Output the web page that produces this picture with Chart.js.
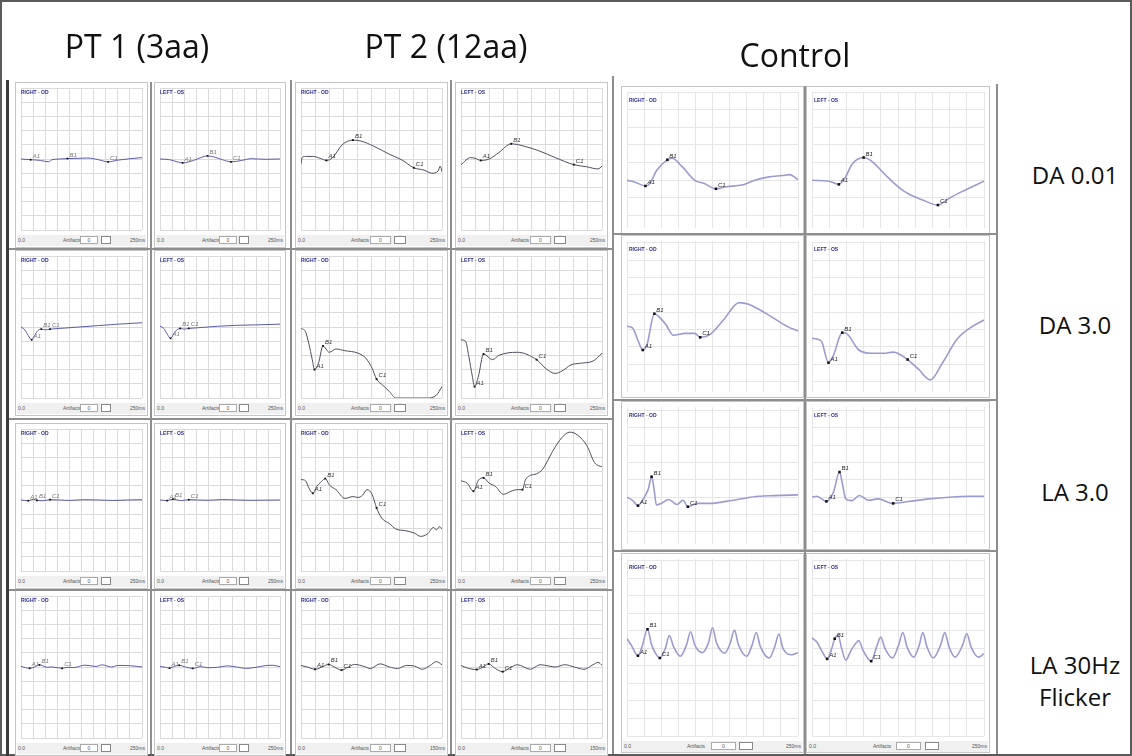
<!DOCTYPE html>
<html>
<head>
<meta charset="utf-8">
<script src="https://cdn.jsdelivr.net/npm/chart.js@4.4.0/dist/chart.umd.min.js"></script>
<style>
  body { margin: 0; width: 1132px; height: 756px; background: #fff; position: relative; overflow: hidden; font-family: "Open Sans", sans-serif; }
  .outer { position: absolute; left: 0; top: 0; width: 1132px; height: 756px; border: 2px solid #5a5a5a; box-sizing: border-box; }
  .title { position: absolute; font-size: 32px; color: #111; white-space: nowrap; transform: translateX(-50%); }
  .rowlab { position: absolute; font-size: 24px; color: #111; white-space: nowrap; text-align: center; transform: translate(-50%, -50%); line-height: 32px; }
  .frame { position: absolute; border: 1px solid #c4c4c4; background: #fff; box-sizing: border-box; }
  .sep { position: absolute; background: #8e8e8e; }
  .eye { position: absolute; font: bold 5px Arial, sans-serif; color: #2e2e8e; white-space: nowrap; }
  .bar { position: absolute; height: 11px; background: #f0f0f0; font: 5px Arial, sans-serif; color: #555; }
  .bar span { position: absolute; top: 2px; white-space: nowrap; }
  .box { position: absolute; top: 1px; height: 8px; border: 1px solid #aaa; background: #fff; box-sizing: border-box; font: 5px Arial; text-align: center; line-height: 6px; color: #555; }
  .pane { position: absolute; }
</style>
</head>
<body>
<div class="outer"></div>
<script>
// ---- grid / axis labels ----
const gridMs = [0, 25, 50, 75, 100, 125, 150, 175, 200, 225, 250];
const markerNames = ['A1', 'B1', 'C1'];
const rowNames = ['DA 0.01', 'DA 3.0', 'LA 3.0', 'LA 30Hz\nFlicker'];
const colTitles = ['PT 1 (3aa)', 'PT 2 (12aa)', 'Control'];

// ---- DA 0.01 ----
const pt1R1OdT = [0, 20, 40, 57, 64, 80, 96, 120, 138, 160, 180, 200, 225, 250];
const pt1R1OdV = [0, -0.05, -0.1, -0.2, -0.05, 0, 0.03, 0.05, 0.07, -0.05, -0.2, -0.08, 0.02, 0.1];
const pt1R1OdM = [20, 96, 180];
const pt1R1OsT = [0, 20, 47, 70, 85, 99, 115, 130, 148, 170, 190, 220, 250];
const pt1R1OsV = [0, -0.05, -0.27, -0.1, 0.1, 0.22, 0.12, -0.05, -0.2, -0.1, 0.02, -0.02, 0];
const pt1R1OsM = [47, 99, 148];
const pt2R1OdT = [0, 2, 8, 22, 34, 45, 56, 73, 92, 106, 129, 157, 179, 200, 218, 232, 243, 247, 250];
const pt2R1OdV = [-0.35, 0.1, 0.18, 0.18, 0.05, -0.1, 0.1, 1.0, 1.33, 1.27, 0.9, 0.33, -0.07, -0.62, -0.78, -1.0, -0.85, -0.5, -0.9];
const pt2R1OdM = [45, 92, 200];
const pt2R1OsT = [0, 17, 25, 35, 50, 67, 89, 112, 140, 167, 200, 223, 243, 250];
const pt2R1OsV = [-0.4, 0.1, 0.05, -0.1, 0.0, 0.45, 1.07, 0.9, 0.55, 0.1, -0.4, -0.55, -0.7, -0.5];
const pt2R1OsM = [35, 89, 200];
const ctR1OdT = [0, 10, 27, 34, 43, 59, 66, 80, 99, 113, 130, 145, 168, 187, 206, 227, 238, 245, 250];
const ctR1OdV = [0, -0.08, -0.32, -0.15, 0.54, 1.16, 1.25, 0.8, 0, -0.18, -0.48, -0.36, -0.27, 0, 0.18, 0.27, 0.32, 0.18, 0.03];
const ctR1OdM = [27, 59, 130];
const ctR1OsT = [0, 25, 39, 49, 58, 75, 86, 110, 128, 142, 160, 183, 200, 220, 250];
const ctR1OsV = [0, -0.05, -0.23, 0.2, 0.9, 1.29, 1.1, 0.18, -0.45, -0.8, -1.1, -1.4, -1.0, -0.6, -0.05];
const ctR1OsM = [39, 75, 183];

// ---- DA 3.0 ----
const pt1R2OdT = [0, 8, 15, 22, 28, 35, 42, 50, 60, 80, 120, 160, 200, 250];
const pt1R2OdV = [0, -0.2, -0.6, -0.9, -0.6, -0.25, -0.15, -0.2, -0.15, -0.1, 0.0, 0.1, 0.2, 0.3];
const pt1R2OdM = [22, 42, 60];
const pt1R2OsT = [0, 8, 15, 22, 28, 35, 42, 50, 60, 80, 120, 160, 200, 250];
const pt1R2OsV = [0.05, -0.1, -0.5, -0.8, -0.5, -0.2, -0.1, -0.15, -0.1, -0.05, 0.05, 0.12, 0.15, 0.2];
const pt1R2OsM = [22, 42, 60];
const pt2R2OdT = [0, 8, 14, 20, 24, 31, 39, 50, 62, 78, 101, 115, 126, 134, 145, 157, 168, 224, 240, 250];
const pt2R2OdV = [-0.1, -0.33, -1.2, -2.3, -3.0, -2.55, -1.33, -1.78, -1.55, -1.67, -1.84, -2.2, -2.9, -3.67, -4.1, -4.55, -5.0, -5.0, -4.8, -4.2];
const pt2R2OdM = [24, 39, 134];
const pt2R2OsT = [0, 8, 14, 20, 24, 31, 40, 56, 67, 100, 134, 151, 167, 179, 195, 212, 234, 250];
const pt2R2OsV = [-0.9, -1.0, -2.1, -3.45, -4.2, -3.45, -1.9, -2.3, -2.0, -1.78, -2.3, -2.95, -3.27, -3.1, -2.67, -2.55, -2.4, -1.85];
const pt2R2OsM = [24, 40, 134];
const ctR2OdT = [0, 8, 17, 23, 29, 40, 47, 57, 68, 85, 99, 107, 122, 141, 164, 178, 192, 215, 234, 250];
const ctR2OdV = [0.18, 0.09, -0.73, -1.18, -0.91, 0.91, 0.73, 0.27, -0.33, -0.22, -0.22, -0.45, -0.27, 0.55, 1.55, 1.45, 1.18, 0.64, 0.18, -0.09];
const ctR2OdM = [23, 40, 107];
const ctR2OsT = [0, 7, 14, 24, 31, 44, 49, 68, 86, 104, 118, 139, 155, 172, 190, 211, 230, 250];
const ctR2OsV = [-0.5, -0.55, -0.7, -1.91, -1.5, -0.18, -0.2, -1.18, -1.37, -1.37, -1.3, -1.73, -2.3, -2.9, -1.9, -0.55, 0.1, 0.55];
const ctR2OsM = [24, 44, 139];

// ---- LA 3.0 ----
const pt1R3OdT = [0, 15, 25, 33, 45, 60, 80, 100, 130, 160, 190, 220, 250];
const pt1R3OdV = [0, -0.05, 0.05, -0.02, -0.05, 0.02, 0.0, -0.03, 0.02, 0.0, -0.03, 0.0, 0.02];
const pt1R3OdM = [15, 33, 60];
const pt1R3OsT = [0, 15, 27, 35, 45, 60, 80, 100, 130, 160, 190, 220, 250];
const pt1R3OsV = [0, -0.04, 0.06, 0.0, -0.04, 0.02, 0.0, -0.02, 0.03, 0.0, -0.02, -0.01, 0.0];
const pt1R3OsM = [15, 27, 60];
const pt2R3OdT = [0, 8, 14, 21, 28, 36, 43, 50, 62, 78, 92, 101, 109, 117, 126, 134, 143, 157, 168, 185, 201, 212, 224, 235, 240, 246, 250];
const pt2R3OdV = [1.44, 1.36, 0.84, 0.47, 0.96, 1.29, 1.51, 1.07, 0.73, 0.11, 0.24, 0.18, 0.33, 0.73, 0.4, -0.56, -1.27, -1.67, -2.04, -2.16, -2.33, -2.56, -2.4, -1.93, -2.1, -1.88, -2.05];
const pt2R3OdM = [21, 43, 134];
const pt2R3OsT = [0, 11, 22, 31, 40, 50, 61, 75, 89, 100, 109, 114, 123, 134, 145, 162, 179, 193, 207, 223, 237, 250];
const pt2R3OsV = [1.36, 1.18, 0.62, 1.4, 1.56, 1.18, 0.96, 0.4, 0.62, 0.73, 0.73, 1.4, 1.73, 1.84, 2.18, 3.4, 4.4, 4.78, 4.56, 3.84, 2.62, 2.33];
const pt2R3OsM = [22, 40, 109];
const ctR3OdT = [0, 8, 16, 24, 31, 36, 39, 43, 50, 61, 73, 82, 89, 103, 122, 145, 168, 192, 215, 250];
const ctR3OdV = [0, -0.18, -0.49, -0.09, 0.45, 1.18, 0.64, -0.45, -0.36, -0.13, -0.42, -0.18, -0.55, -0.36, -0.36, -0.24, -0.09, 0.05, 0.09, 0.13];
const ctR3OdM = [16, 36, 89];
const ctR3OsT = [0, 7, 21, 31, 40, 44, 49, 58, 69, 82, 96, 118, 140, 170, 200, 230, 250];
const ctR3OsV = [0, 0.05, -0.24, 0.27, 1.45, 0.82, -0.1, -0.2, 0.1, -0.18, -0.1, -0.36, -0.25, -0.1, 0, 0.05, 0.05];
const ctR3OsM = [21, 40, 118];

// ---- LA 30Hz Flicker ----
const pt1R4OdT = [0, 18, 28, 38, 54, 64, 85, 96, 109, 132, 155, 168, 187, 200, 226, 250];
const pt1R4OdV = [0.04, -0.09, 0.0, 0.15, -0.02, 0.0, -0.09, -0.02, -0.04, 0.13, 0.04, 0.15, 0.0, 0.11, 0.09, 0.0];
const pt1R4OdM = [18, 38, 85];
const pt1R4OsT = [0, 12, 20, 30, 40, 55, 68, 85, 100, 120, 140, 160, 180, 200, 220, 235, 250];
const pt1R4OsV = [0.03, -0.02, -0.08, 0.05, 0.12, -0.02, -0.1, 0.02, -0.05, -0.02, 0.08, 0.0, -0.1, -0.02, 0.1, 0.12, 0.03];
const pt1R4OsM = [20, 40, 68];
const pt2R4OdT = [0, 11, 25, 39, 49, 59, 72, 81, 95, 112, 123, 140, 157, 171, 187, 201, 215, 229, 240, 250];
const pt2R4OdV = [0.11, 0, -0.16, 0.04, 0.18, 0, -0.22, -0.07, 0.18, 0.04, -0.11, 0.22, 0, -0.11, 0.11, 0.07, -0.16, 0.11, 0.38, 0.16];
const pt2R4OdM = [25, 49, 72];
const pt2R4OsT = [0, 11, 28, 42, 49, 61, 74, 86, 100, 123, 140, 156, 167, 184, 201, 218, 234, 243, 250];
const pt2R4OsV = [0.11, -0.07, -0.18, 0.07, 0.22, -0.11, -0.33, -0.07, 0.16, -0.16, 0.16, 0.07, 0, 0.16, 0, -0.16, 0.16, 0.33, 0.11];
const pt2R4OsM = [28, 49, 74];
const ctR4OdT = [0, 6, 16, 22, 30, 36, 42, 48, 56, 62, 68, 78, 87, 93, 99, 110, 119, 125, 131, 143, 151, 157, 163, 175, 183, 189, 195, 208, 216, 222, 228, 241, 250];
const ctR4OdV = [0.55, 0.2, -0.42, 0.1, 1.09, 0.2, -0.3, -0.55, 0.0, 0.73, 0.1, -0.45, 0.2, 0.95, 0.2, -0.24, 0.3, 1.18, 0.3, -0.27, 0.3, 1.04, 0.2, -0.45, 0.2, 0.91, 0.1, -0.55, 0.1, 0.82, 0.0, -0.36, -0.25];
const ctR4OdM = [16, 30, 48];
const ctR4OsT = [0, 7, 15, 22, 28, 33, 38, 43, 49, 57, 62, 68, 74, 80, 86, 94, 100, 106, 117, 126, 132, 138, 148, 156, 161, 167, 176, 187, 193, 199, 208, 219, 225, 231, 242, 250];
const ctR4OsV = [0.6, 0.36, -0.2, -0.6, -0.1, 0.55, 0.75, 0.0, -0.67, -0.1, 0.2, 0.45, -0.1, -0.5, -0.73, 0.1, 0.64, 0.0, -0.55, 0.2, 0.91, 0.1, -0.5, 0.2, 0.9, 0.1, -0.55, 0.2, 0.9, 0.1, -0.5, 0.2, 0.85, 0.1, -0.5, -0.3];
const ctR4OsM = [22, 33, 86];

// end-of-sweep labels per row (PT panels)
const sweepEnd = ['250ms', '250ms', '250ms', '150ms'];

// ---- layout ----
const ptCols = [{ x: 17, w: 129 }, { x: 156, w: 128 }, { x: 297, w: 149 }, { x: 457, w: 149 }];
const ptRows = [84, 252, 425, 592];
const ptH = 150;
const ctCols = [{ x: 623, w: 179 }, { x: 808, w: 180 }];
const ctRows = [
  { y: 88, h: 144, min: -2.7, max: 5.0 },
  { y: 237, h: 159, min: -3.6, max: 5.1 },
  { y: 403, h: 145, min: -2.7, max: 5.2 },
  { y: 555, h: 185, min: -5.0, max: 5.1 }
];

const panels = [
  [[pt1R1OdT, pt1R1OdV, pt1R1OdM], [pt1R1OsT, pt1R1OsV, pt1R1OsM], [pt2R1OdT, pt2R1OdV, pt2R1OdM], [pt2R1OsT, pt2R1OsV, pt2R1OsM], [ctR1OdT, ctR1OdV, ctR1OdM], [ctR1OsT, ctR1OsV, ctR1OsM]],
  [[pt1R2OdT, pt1R2OdV, pt1R2OdM], [pt1R2OsT, pt1R2OsV, pt1R2OsM], [pt2R2OdT, pt2R2OdV, pt2R2OdM], [pt2R2OsT, pt2R2OsV, pt2R2OsM], [ctR2OdT, ctR2OdV, ctR2OdM], [ctR2OsT, ctR2OsV, ctR2OsM]],
  [[pt1R3OdT, pt1R3OdV, pt1R3OdM], [pt1R3OsT, pt1R3OsV, pt1R3OsM], [pt2R3OdT, pt2R3OdV, pt2R3OdM], [pt2R3OsT, pt2R3OsV, pt2R3OsM], [ctR3OdT, ctR3OdV, ctR3OdM], [ctR3OsT, ctR3OsV, ctR3OsM]],
  [[pt1R4OdT, pt1R4OdV, pt1R4OdM], [pt1R4OsT, pt1R4OsV, pt1R4OsM], [pt2R4OdT, pt2R4OdV, pt2R4OdM], [pt2R4OsT, pt2R4OsV, pt2R4OsM], [ctR4OdT, ctR4OdV, ctR4OdM], [ctR4OsT, ctR4OsV, ctR4OsM]]
];

function addDiv(cls, x, y, w, h, text) {
  const d = document.createElement('div');
  d.className = cls;
  d.style.left = x + 'px';
  d.style.top = y + 'px';
  if (w != null) d.style.width = w + 'px';
  if (h != null) d.style.height = h + 'px';
  if (text != null) d.textContent = text;
  document.body.appendChild(d);
  return d;
}

// marker labels next to the black squares
const markerLabels = {
  id: 'markerLabels',
  afterDatasetsDraw(chart, args, opts) {
    const ctx = chart.ctx;
    const meta = chart.getDatasetMeta(0);
    ctx.save();
    ctx.font = 'italic 6px Arial';
    ctx.fillStyle = opts.color;
    meta.data.forEach((pt, i) => {
      ctx.fillText(markerNames[i], pt.x + 2, pt.y - 2);
    });
    ctx.restore();
  }
};

function makeChart(x, y, w, h, yMin, yMax, trace, style) {
  const holder = addDiv('pane', x, y, w, h);
  const canvas = document.createElement('canvas');
  canvas.width = w;
  canvas.height = h;
  canvas.style.width = w + 'px';
  canvas.style.height = h + 'px';
  holder.appendChild(canvas);

  const [times, values, marks] = trace;
  const yTicks = [];
  for (let v = Math.ceil(yMin); v <= Math.floor(yMax); v++) yTicks.push(v);

  new Chart(canvas, {
    type: 'line',
    data: {
      datasets: [
        {
          type: 'scatter',
          data: marks.map(m => ({ x: m, y: values[times.indexOf(m)] })),
          pointStyle: 'rect',
          pointRadius: style.markR,
          backgroundColor: '#111',
          borderColor: '#111',
          borderWidth: 0
        },
        {
          data: times.map((t, i) => ({ x: t, y: values[i] })),
          borderColor: style.line,
          borderWidth: style.lw,
          pointRadius: 0,
          cubicInterpolationMode: 'monotone',
          fill: false
        }
      ]
    },
    options: {
      responsive: false,
      animation: false,
      events: [],
      layout: { padding: 0 },
      plugins: {
        legend: { display: false },
        tooltip: { enabled: false },
        markerLabels: { color: style.labelColor }
      },
      scales: {
        x: {
          type: 'linear', min: 0, max: 250,
          afterBuildTicks: a => { a.ticks = gridMs.map(v => ({ value: v })); },
          ticks: { display: false },
          grid: { color: style.grid, drawTicks: false, lineWidth: 1 },
          border: { display: false }
        },
        y: {
          type: 'linear', min: yMin, max: yMax,
          afterBuildTicks: a => { a.ticks = yTicks.map(v => ({ value: v })); },
          ticks: { display: false },
          grid: { color: style.grid, drawTicks: false, lineWidth: 1 },
          border: { display: false }
        }
      }
    },
    plugins: [markerLabels]
  });
}

function addBar(x, y, w, endLabel) {
  const bar = addDiv('bar', x, y, w, 11);
  const s0 = document.createElement('span'); s0.style.left = '1px'; s0.textContent = '0.0'; bar.appendChild(s0);
  const s1 = document.createElement('span'); s1.style.left = Math.round(w * 0.36) + 'px'; s1.textContent = 'Artifacts'; bar.appendChild(s1);
  const b1 = document.createElement('div'); b1.className = 'box'; b1.style.left = Math.round(w * 0.49) + 'px'; b1.style.width = Math.round(w * 0.14) + 'px'; b1.textContent = '0'; bar.appendChild(b1);
  const b2 = document.createElement('div'); b2.className = 'box'; b2.style.left = Math.round(w * 0.65) + 'px'; b2.style.width = Math.round(w * 0.08) + 'px'; b2.style.borderColor = '#888'; bar.appendChild(b2);
  const s2 = document.createElement('span'); s2.style.right = '1px'; s2.textContent = endLabel; bar.appendChild(s2);
}

const ptStyles = [
  { line: '#5a5aa6', lw: 1, grid: '#dadada', markR: 1.2, labelColor: '#777' },
  { line: '#4e4e5e', lw: 1, grid: '#dadada', markR: 1.3, labelColor: '#333' }
];
const ctStyle = { line: '#9b9bd0', lw: 1.6, grid: '#e6e6e6', markR: 1.8, labelColor: '#222' };

// patient panels
ptRows.forEach((py, r) => {
  ptCols.forEach((c, ci) => {
    addDiv('frame', c.x - 2, py - 2, c.w + 4, ptH + 16);
    makeChart(c.x, py, c.w, ptH, -5, 5, panels[r][ci], ptStyles[ci < 2 ? 0 : 1]);
    addDiv('eye', c.x + 4, py + 5, null, null, ci % 2 === 0 ? 'RIGHT - OD' : 'LEFT - OS');
    addBar(c.x, py + ptH + 1, c.w, ci < 2 ? '250ms' : sweepEnd[r]);
  });
});

// control panels
ctRows.forEach((cr, r) => {
  ctCols.forEach((c, ci) => {
    addDiv('frame', c.x - 2, cr.y - 2, c.w + 4, cr.h + (r === 3 ? 15 : 4));
    makeChart(c.x, cr.y, c.w, cr.h, cr.min, cr.max, panels[r][4 + ci], ctStyle);
    addDiv('eye', c.x + 6, cr.y + 9, null, null, ci === 0 ? 'RIGHT - OD' : 'LEFT - OS');
    if (r === 3) addBar(c.x, cr.y + cr.h + 1, c.w, '250ms');
  });
});

// separators between screenshots
[[150, 82, 2, 672], [290, 80, 2, 674], [450, 80, 2, 674], [612, 76, 2, 678], [804, 86, 2, 668], [996, 84, 2, 670]].forEach(s => addDiv('sep', s[0], s[1], s[2], s[3]));
[[8, 248, 604, 2], [8, 418, 604, 2], [8, 589, 604, 2], [614, 233, 384, 2], [614, 399, 384, 2], [614, 550, 384, 2]].forEach(s => addDiv('sep', s[0], s[1], s[2], s[3]));
addDiv('sep', 6, 80, 3, 676).style.background = '#3c3c3c';

// titles and row labels
[[137, 24], [446, 24], [795, 33]].forEach((p, i) => addDiv('title', p[0], p[1], null, null, colTitles[i]));
[[1075, 175], [1075, 325], [1075, 492], [1075, 681]].forEach((p, i) => {
  const d = addDiv('rowlab', p[0], p[1], null, null, rowNames[i]);
  d.style.whiteSpace = 'pre';
});
</script>
</body>
</html>
